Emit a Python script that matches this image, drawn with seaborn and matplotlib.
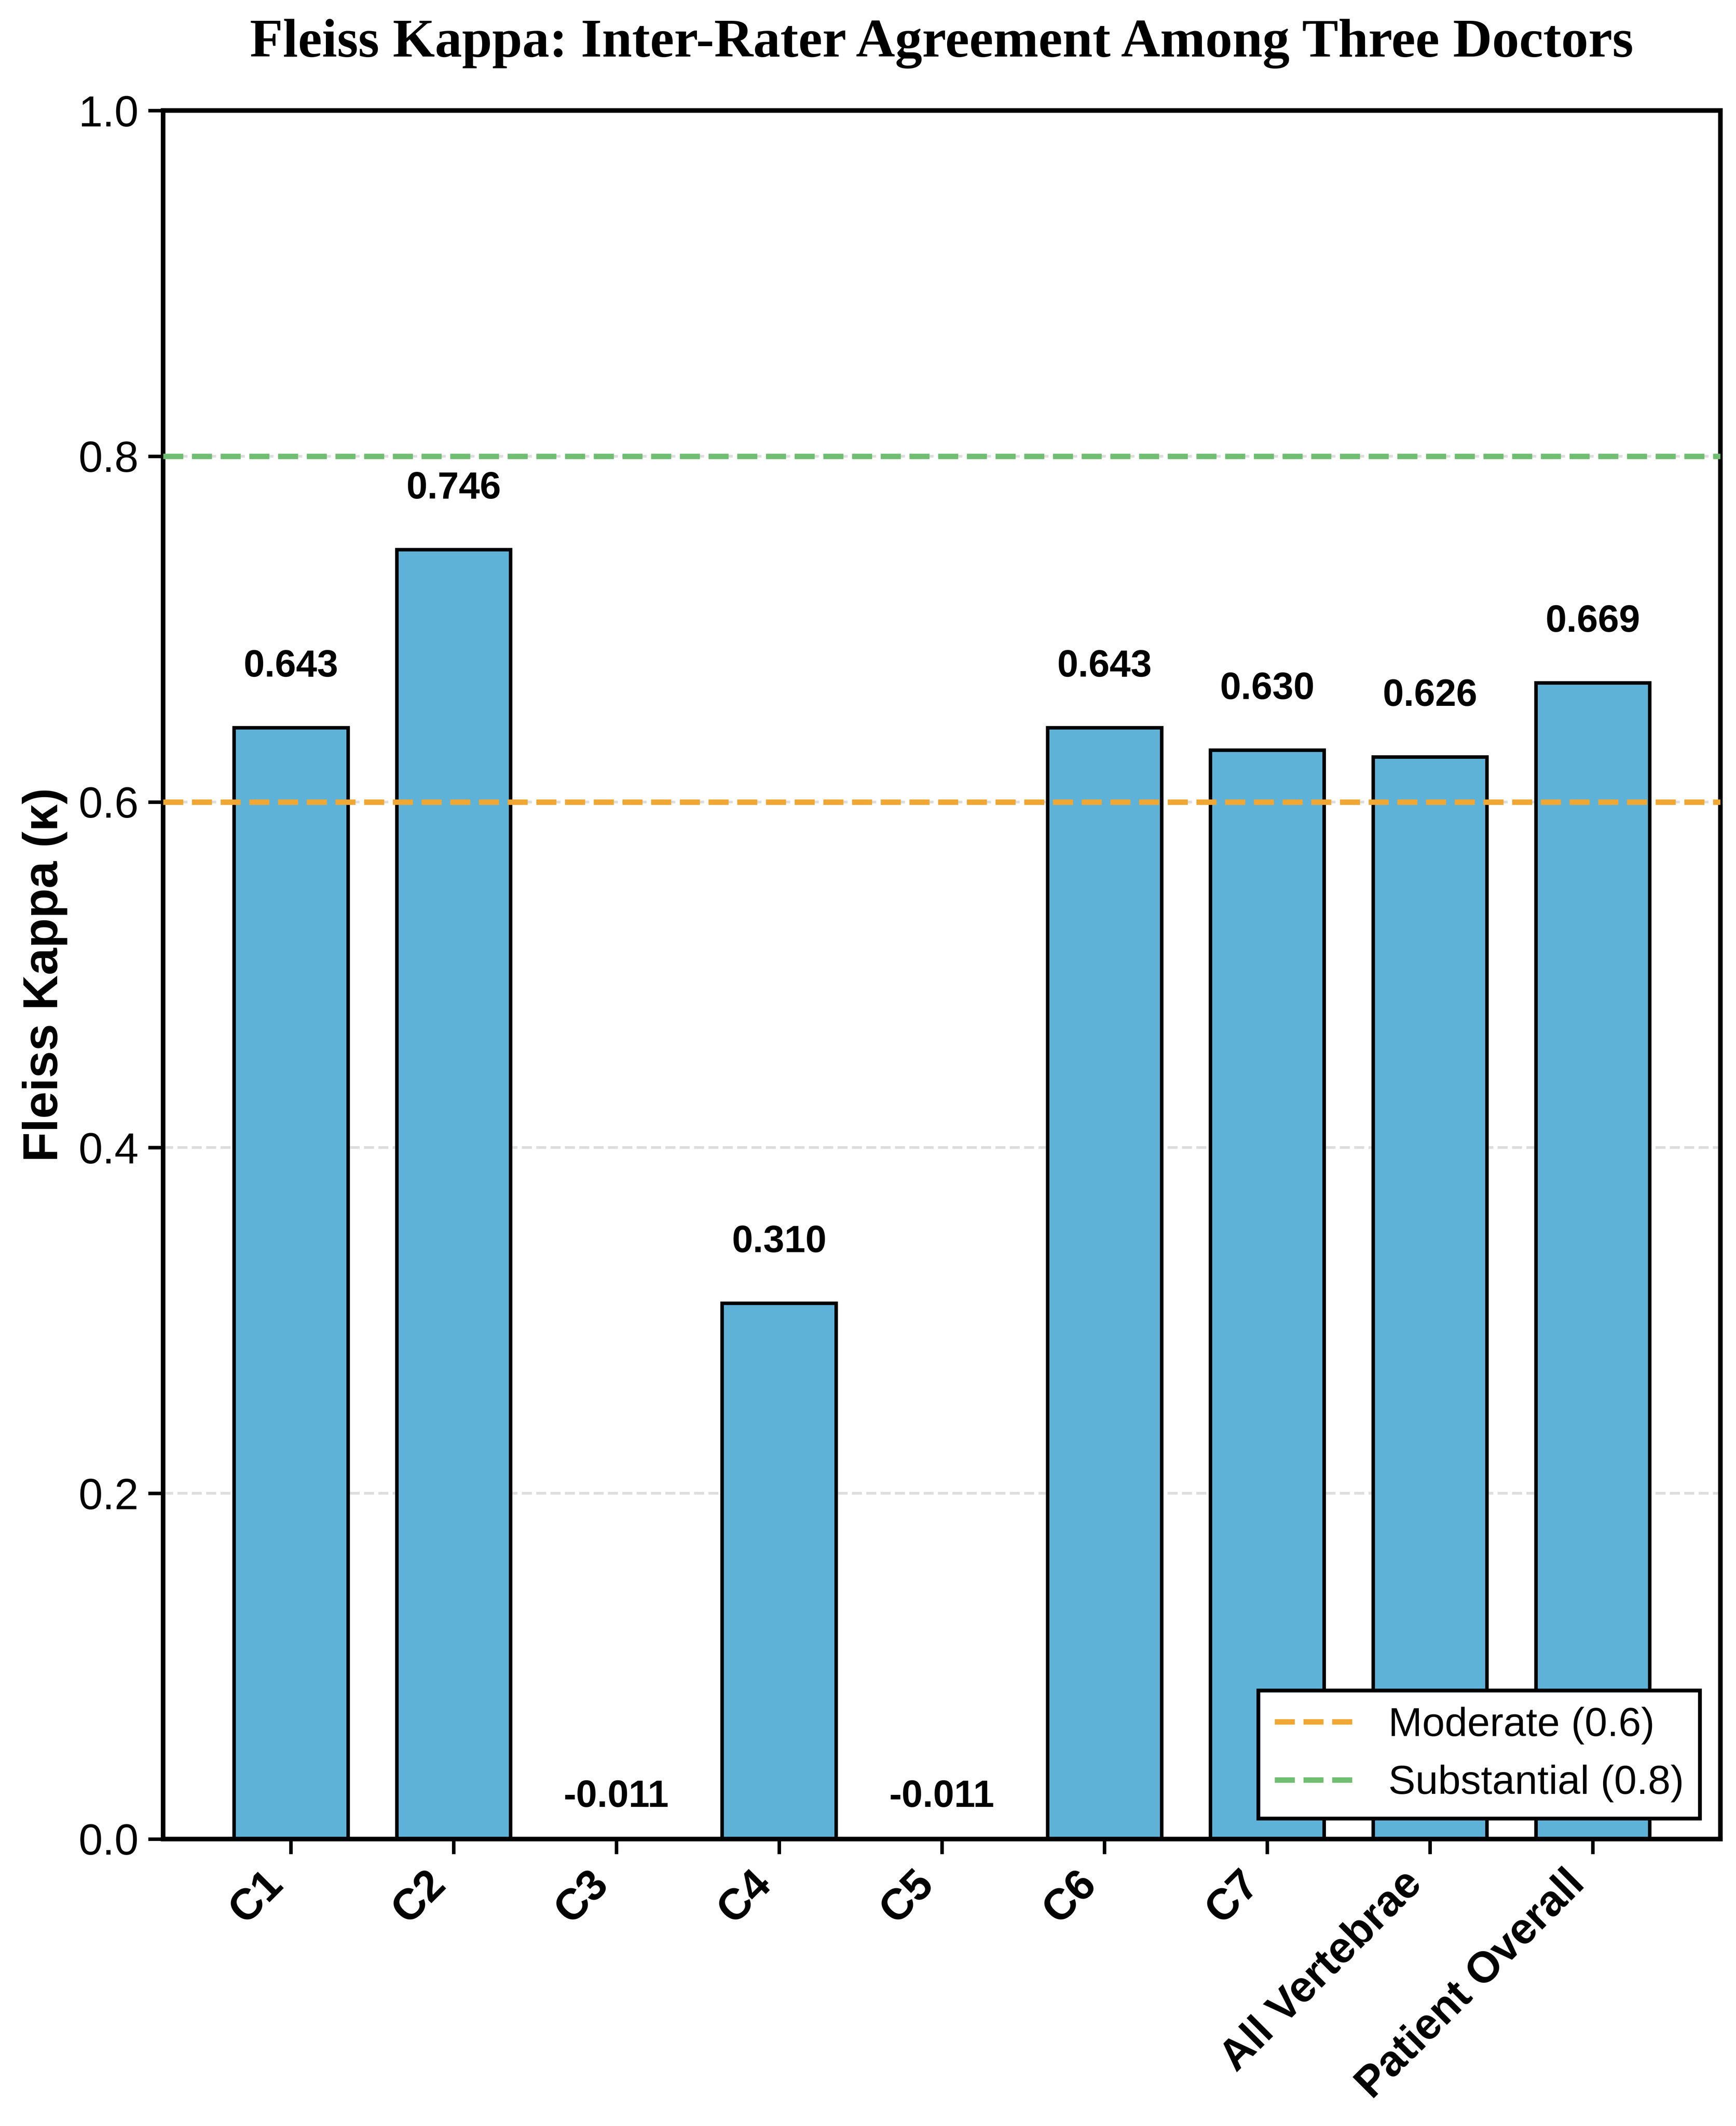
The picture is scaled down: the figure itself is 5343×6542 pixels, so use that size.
import matplotlib
matplotlib.use("Agg")
import matplotlib.pyplot as plt
import seaborn as sns
import pandas as pd

categories = ["C1", "C2", "C3", "C4", "C5", "C6", "C7", "All Vertebrae", "Patient Overall"]
kappa = [0.643, 0.746, -0.011, 0.310, -0.011, 0.643, 0.630, 0.626, 0.669]
thresholds = [0.6, 0.8]
threshold_labels = ["Moderate (0.6)", "Substantial (0.8)"]
threshold_colors = ["#F0A733", "#70BE72"]
bar_color = "#5FB2D7"

sns.set_style("ticks")
plt.rcParams["font.family"] = ["Liberation Sans", "DejaVu Sans"]
for k in ["text.color", "axes.labelcolor", "xtick.color", "ytick.color", "axes.edgecolor"]:
    plt.rcParams[k] = "black"

df = pd.DataFrame({"cat": categories, "kappa": kappa})

fig, ax = plt.subplots(figsize=(5343 / 600, 6542 / 600), dpi=600)
fig.subplots_adjust(left=0.094, right=0.991, top=0.948, bottom=0.135)

ax.yaxis.grid(True, linestyle="--", color="#dddddd", linewidth=1.0)
ax.set_axisbelow(True)

sns.barplot(data=df, x="cat", y="kappa", order=categories, color=bar_color,
            saturation=1, edgecolor="black", linewidth=1.3, width=0.7, ax=ax)

for t, lab, c in zip(thresholds, threshold_labels, threshold_colors):
    ax.axhline(t, color=c, linestyle="--", linewidth=2.0, label=lab, zorder=3)

for i, v in enumerate(kappa):
    ax.text(i, v + 0.025, f"{v:.3f}", ha="center", va="bottom",
            fontsize=14, fontweight="bold", color="black")

ax.set_xlim(-0.785, len(categories) - 1 + 0.785)
ax.set_ylim(0, 1.0)
ax.set_xlabel("")
ax.set_ylabel("Fleiss Kappa (κ)", fontsize=18, fontweight="bold")
ax.set_title("Fleiss Kappa: Inter-Rater Agreement Among Three Doctors",
             fontsize=20, fontweight="bold", family=["Liberation Serif", "DejaVu Serif"], pad=20)

ax.tick_params(axis="y", labelsize=16, length=5.5, width=1.3, colors="black")
ax.tick_params(axis="x", labelsize=16, length=5.5, width=1.3, colors="black")
plt.setp(ax.get_xticklabels(), rotation=45, ha="right", fontweight="bold")

for s in ax.spines.values():
    s.set_linewidth(1.7)
    s.set_color("black")

leg = ax.legend(loc="lower right", fontsize=15, frameon=True, fancybox=False,
                edgecolor="black", framealpha=1.0, handlelength=2.0)
leg.get_frame().set_linewidth(1.4)

fig.savefig("out.png", dpi=600)
